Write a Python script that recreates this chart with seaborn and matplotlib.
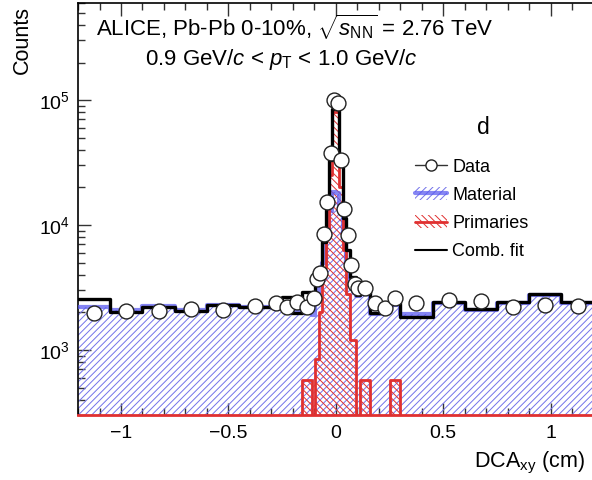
import numpy as np
import matplotlib
matplotlib.use("Agg")
import matplotlib.pyplot as plt
import seaborn as sns
from matplotlib.patches import Patch
from matplotlib.lines import Line2D
from matplotlib.ticker import MultipleLocator, LogLocator, NullFormatter, FuncFormatter

# DCAxy template fit, deuterons, Pb-Pb 0-10%, 0.9 < pT < 1.0 GeV/c
bin_edges = [-1.2, -1.05, -0.9, -0.75, -0.6, -0.45, -0.3, -0.253, -0.206, -0.159, -0.112,
             -0.096, -0.08, -0.064, -0.048, -0.032, -0.016, 0.0, 0.016, 0.032, 0.048, 0.064,
             0.08, 0.096, 0.112, 0.159, 0.206, 0.253, 0.3, 0.45, 0.6, 0.75, 0.9, 1.05, 1.2]

data_counts = [1970, 2060, 2060, 2130, 2090, 2260,
               2360, 2220, 2430, 2220,
               2590, 3700, 4150, 8470, 15400, 37500, 100000,
               95200, 33100, 13400, 8320, 4790, 3400, 3110,
               3110, 2370, 2160, 2590,
               2370, 2510, 2480, 2200, 2290, 2250]

fit_counts = [2550, 2025, 2220, 2063, 2291, 2200,
              2290, 2650, 1970, 2930,
              2700, 3500, 4240, 7360, 14000, 33000, 85000,
              85000, 33000, 11400, 6300, 3870, 3870, 2750,
              2900, 1970, 2365, 2365,
              1850, 2436, 2117, 2436, 2827, 2436]

material_counts = [2220, 2090, 2250, 2090, 2300, 2200,
                   2250, 2150, 2000, 2100,
                   1900, 2500, 3200, 5000, 8000, 13000, 18500,
                   18000, 13000, 8000, 5000, 3500, 2900, 2700,
                   2800, 1950, 2300, 2300,
                   1950, 2380, 2080, 2400, 2780, 2380]

primary_counts = [0, 0, 0, 0, 0, 0,
                  0, 0, 0, 575,
                  0, 850, 2000, 4500, 9000, 25000, 80000,
                  80000, 20000, 6300, 2800, 1200, 1200, 0,
                  575, 0, 0, 575,
                  0, 0, 0, 0, 0, 0]

bin_centers = 0.5 * (np.array(bin_edges[:-1]) + np.array(bin_edges[1:]))

sns.set_theme(style="ticks")
plt.rcParams['font.family'] = ['Liberation Sans', 'DejaVu Sans']
plt.rcParams['mathtext.fontset'] = 'custom'
plt.rcParams['mathtext.rm'] = 'Liberation Sans'
plt.rcParams['mathtext.it'] = 'Liberation Sans:italic'
plt.rcParams['mathtext.bf'] = 'Liberation Sans:bold'
plt.rcParams['hatch.linewidth'] = 0.7
plt.rcParams['text.color'] = 'black'
plt.rcParams['axes.edgecolor'] = 'black'
plt.rcParams['xtick.color'] = 'black'
plt.rcParams['ytick.color'] = 'black'

blue = '#7272ea'
blue_line = '#5c5cf0'
red = '#e03030'

fig = plt.figure(figsize=(5.92, 4.8), dpi=100)
ax = fig.add_axes([0.1318, 0.1346, 0.8711, 0.8594])
ax.set_yscale('log')

# templates
sns.histplot(x=bin_centers, weights=material_counts, bins=bin_edges, element='step', fill=True,
             color=blue, facecolor='none', edgecolor=blue, linewidth=0, hatch='/////', ax=ax, zorder=1)
sns.histplot(x=bin_centers, weights=primary_counts, bins=bin_edges, element='step', fill=True,
             color=red, facecolor='none', edgecolor=red, linewidth=0, hatch='\\\\\\\\\\', ax=ax, zorder=2)
sns.histplot(x=bin_centers, weights=material_counts, bins=bin_edges, element='step', fill=False,
             color=blue_line, linewidth=3, alpha=0.75, ax=ax, zorder=3)
sns.histplot(x=bin_centers, weights=primary_counts, bins=bin_edges, element='step', fill=False,
             color=red, linewidth=2, ax=ax, zorder=4)
sns.histplot(x=bin_centers, weights=fit_counts, bins=bin_edges, element='step', fill=False,
             color='black', linewidth=2.4, ax=ax, zorder=5)
sns.scatterplot(x=bin_centers, y=data_counts, marker='o', s=115, color='white',
                edgecolor='#222222', linewidth=1.0, ax=ax, zorder=6)

ax.set_xlim(-1.2, 1.2)
ax.set_ylim(300, 6e5)
ax.set_xlabel('')
ax.set_ylabel('')

ax.xaxis.set_major_locator(MultipleLocator(0.5))
ax.xaxis.set_minor_locator(MultipleLocator(0.1))
ax.xaxis.set_major_formatter(FuncFormatter(lambda v, p: f'{v:g}'.replace('-', '\u2212')))
ax.yaxis.set_major_locator(LogLocator(base=10, numticks=10))
ax.yaxis.set_minor_locator(LogLocator(base=10, subs=np.arange(2, 10), numticks=20))
ax.yaxis.set_minor_formatter(NullFormatter())
ax.tick_params(axis='both', which='both', direction='in', top=True, right=False,
               labelsize=14, width=1.0, color='#333333', labelcolor='black')
ax.tick_params(axis='both', which='major', length=9)
ax.tick_params(axis='both', which='minor', length=5)
ax.tick_params(axis='x', pad=7)
ax.tick_params(axis='y', pad=6)
for s in ['left', 'top']:
    ax.spines[s].set_linewidth(1.2)
ax.spines['right'].set_visible(False)
ax.spines['bottom'].set_color(red)
ax.spines['bottom'].set_linewidth(2)

fig.text(0.037, 0.988, 'Counts', rotation=90, ha='center', va='top', fontsize=15.5)
fig.text(0.988, 0.027, r'DCA$_{\mathrm{xy}}$ (cm)', ha='right', va='baseline', fontsize=15.5)

ax.text(0.035, 0.94, r'ALICE, Pb-Pb 0-10%, $\sqrt{s_{\mathrm{NN}}}$ = 2.76 TeV',
        transform=ax.transAxes, ha='left', va='center', fontsize=16)
ax.text(0.13, 0.862, r'0.9 GeV/$c$ < $p_{\mathrm{T}}$ < 1.0 GeV/$c$',
        transform=ax.transAxes, ha='left', va='center', fontsize=16)
ax.text(0.787, 0.697, 'd', transform=ax.transAxes, ha='center', va='center', fontsize=16.5)

handles = [
    Line2D([], [], color='#333333', lw=1, marker='o', ms=8, mfc='white', mec='#222222'),
    (Patch(facecolor='none', edgecolor=blue, hatch='/////', lw=0), Line2D([], [], color=blue_line, lw=3, alpha=0.75)),
    (Patch(facecolor='none', edgecolor=red, hatch='\\\\\\\\\\', lw=0), Line2D([], [], color=red, lw=2)),
    Line2D([], [], color='black', lw=1.5),
]
labels = ['Data', 'Material', 'Primaries', 'Comb. fit']
ax.legend(handles, labels, loc='upper left', bbox_to_anchor=(0.64, 0.64), frameon=False,
          fontsize=13, handlelength=1.75, handletextpad=0.3, labelspacing=0.62, borderaxespad=0)

fig.savefig('out.png', dpi=100)
